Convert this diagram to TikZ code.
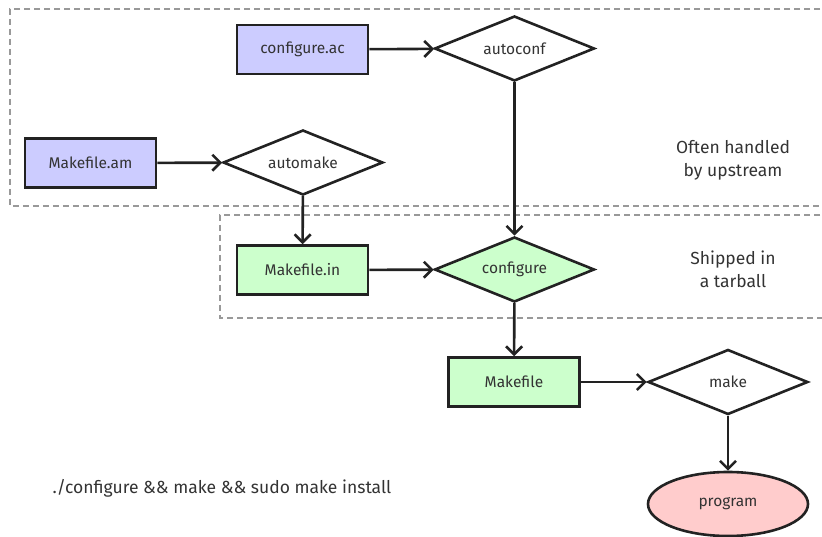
\documentclass[tikz,border=0pt]{standalone}
\usepackage{fontspec}
\setmainfont{Fira Sans}
\usetikzlibrary{shapes.geometric,arrows.meta}
\definecolor{lav}{HTML}{CCCCFF}
\definecolor{lgreen}{HTML}{CCFFCC}
\definecolor{lpink}{HTML}{FFCCCC}
\definecolor{edge}{HTML}{222222}
\definecolor{dash}{HTML}{999999}
\definecolor{txt}{HTML}{333333}
\tikzset{
  x=1pt, y=-1pt,
  every node/.style={font=\fontsize{15.5}{19}\selectfont, text=txt},
  filebox/.style={draw=edge, line width=2.6pt, minimum width=131pt, minimum height=49pt, inner sep=0pt},
  tool/.style={diamond, draw=edge, line width=2.6pt, minimum width=160pt, minimum height=65pt, aspect=2.46, inner sep=0pt},
  conn/.style={draw=edge, line width=2.6pt, -{Straight Barb[length=8pt,width=16pt,line width=2.6pt]}},
  group/.style={draw=dash, line width=2.2pt, dash pattern=on 6pt off 4pt},
  note/.style={align=center, font=\fontsize{17.5}{23}\selectfont}
}
\begin{document}
\begin{tikzpicture}
\useasboundingbox (0,0) rectangle (822,537);
\draw[group] (830,9) -- (10,9) -- (10,206) -- (830,206);
\draw[group] (830,215) -- (220,215) -- (220,318) -- (830,318);

\node[filebox, fill=lav] (cac) at (302.5,49.5) {configure.ac};
\node[filebox, fill=lav] (mam) at (90.5,163) {Makefile.am};
\node[tool, fill=white] (autoconf) at (514.5,48.5) {autoconf};
\node[tool, fill=white] (automake) at (303,162.5) {automake};
\node[filebox, fill=lgreen] (min) at (302.5,270) {Makefile.in};
\node[tool, fill=lgreen] (configure) at (514.5,269.5) {configure};
\node[filebox, fill=lgreen] (mk) at (514,382) {Makefile};
\node[tool, fill=white] (make) at (728,382) {make};
\node[ellipse, draw=edge, line width=2.6pt, fill=lpink, minimum width=160pt, minimum height=64pt, inner sep=0pt] (prog) at (728,504) {program};

\node[note] (up) at (733,160) {Often handled\\by upstream};
\node[note] (tb) at (733,269) {Shipped in\\a tarball};
\node[font=\fontsize{17.5}{21}\selectfont] (cmd) at (222,488) {./configure \&\& make \&\& sudo make install};

\draw[conn] (cac) -- (autoconf);
\draw[conn] (mam) -- (automake);
\draw[conn] (autoconf) -- (configure);
\draw[conn] (automake) -- (min);
\draw[conn] (min) -- (configure);
\draw[conn] (configure) -- (mk);
\draw[conn] (mk) -- (make);
\draw[conn] (make) -- (prog);
\end{tikzpicture}
\end{document}
